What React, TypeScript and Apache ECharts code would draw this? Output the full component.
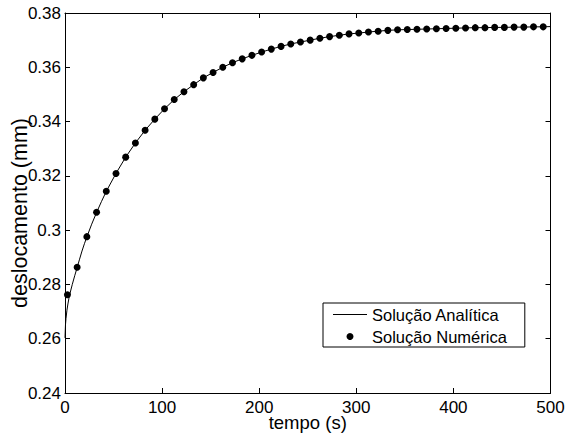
import React, { useEffect, useRef } from "react";
import * as echarts from "echarts";

// Numerical solution (points)
const numericTime: number[] = [
  2.5, 12.5, 22.5, 32.5, 42.5, 52.5, 62.5, 72.5, 82.5, 92.5,
  102.5, 112.5, 122.5, 132.5, 142.5, 152.5, 162.5, 172.5, 182.5, 192.5,
  202.5, 212.5, 222.5, 232.5, 242.5, 252.5, 262.5, 272.5, 282.5, 292.5,
  302.5, 312.5, 322.5, 332.5, 342.5, 352.5, 362.5, 372.5, 382.5, 392.5,
  402.5, 412.5, 422.5, 432.5, 442.5, 452.5, 462.5, 472.5, 482.5, 492.5,
];
const numericValues: number[] = [
  0.2762, 0.2863, 0.2976, 0.3066, 0.3143, 0.3209, 0.3269, 0.3321, 0.3368, 0.3409,
  0.3447, 0.3481, 0.3510, 0.3536, 0.3561, 0.3581, 0.3600, 0.3617, 0.3631, 0.3644,
  0.3656, 0.3667, 0.3677, 0.3686, 0.3693, 0.3700, 0.3707, 0.3713, 0.3718, 0.3723,
  0.3726, 0.3730, 0.3733, 0.3736, 0.3738, 0.3739, 0.3740, 0.3741, 0.3742, 0.3743,
  0.3744, 0.3745, 0.3746, 0.3746, 0.3747, 0.3747, 0.3748, 0.3748, 0.3749, 0.3749,
];

// Analytical solution (line)
const analyticTime: number[] = [
  0, 0.5, 1, 2, 3, 4, 5, 7.5, 10, 12.5, 15, 17.5, 20, 22.5, 27.5, 32.5, 37.5,
  42.5, 52.5, 62.5, 72.5, 82.5, 92.5, 102.5, 112.5, 122.5, 132.5, 142.5, 152.5,
  162.5, 172.5, 182.5, 192.5, 202.5, 212.5, 222.5, 232.5, 242.5, 252.5, 262.5,
  272.5, 282.5, 292.5, 302.5, 312.5, 322.5, 332.5, 342.5, 352.5, 362.5, 372.5,
  382.5, 392.5, 402.5, 412.5, 422.5, 432.5, 442.5, 452.5, 462.5, 472.5, 482.5,
  492.5, 500,
];
const analyticValues: number[] = [
  0.2603, 0.2652, 0.2674, 0.2705, 0.2728, 0.2748, 0.2765, 0.2800, 0.2832, 0.2862,
  0.2893, 0.2923, 0.2950, 0.2975, 0.3022, 0.3065, 0.3105,
  0.3143, 0.3209, 0.3269, 0.3321, 0.3368, 0.3409, 0.3447, 0.3481, 0.3510, 0.3536,
  0.3561, 0.3581, 0.3600, 0.3617, 0.3631, 0.3644, 0.3656, 0.3667, 0.3677, 0.3686,
  0.3693, 0.3700, 0.3707, 0.3713, 0.3718, 0.3723, 0.3726, 0.3730, 0.3733, 0.3736,
  0.3738, 0.3739, 0.3740, 0.3741, 0.3742, 0.3743, 0.3744, 0.3745, 0.3746, 0.3746,
  0.3747, 0.3747, 0.3748, 0.3748, 0.3749, 0.3749, 0.3750,
];

const seriesNames = ["Solução Analítica", "Solução Numérica"];
const xTitle = "tempo (s)";
const yTitle = "deslocamento (mm)";

const FONT = "'Liberation Sans', Arial, Helvetica, sans-serif";

export default function App() {
  const ref = useRef<HTMLDivElement>(null);

  useEffect(() => {
    if (!ref.current) return;
    const chart = echarts.init(ref.current, undefined, { renderer: "svg" });

    const tickStyle = {
      show: true,
      inside: true,
      length: 5,
      lineStyle: { color: "#000", width: 1 },
    };
    const axisLine = { show: true, onZero: false, lineStyle: { color: "#000", width: 1 } };

    const xCommon = { type: "value" as const, min: 0, max: 500, interval: 100 };
    const yCommon = { type: "value" as const, min: 0.24, max: 0.38, interval: 0.02 };

    chart.setOption({
      animation: false,
      backgroundColor: "#fff",
      grid: {
        left: 65,
        right: 15.5,
        top: 13,
        bottom: 49,
        containLabel: false,
        outerBoundsMode: "none",
      },
      graphic: [
        {
          type: "text",
          x: 20,
          y: 213,
          rotation: Math.PI / 2,
          silent: true,
          style: {
            text: yTitle,
            fontFamily: FONT,
            fontSize: 21.5,
            fill: "#000",
            textAlign: "center",
            textVerticalAlign: "middle",
          },
        },
      ],
      legend: {
        orient: "vertical",
        left: 323,
        top: 303,
        itemWidth: 34,
        itemHeight: 7,
        itemGap: 5,
        padding: [3, 18, 2, 10],
        borderColor: "#000",
        borderWidth: 1,
        backgroundColor: "#fff",
        selectedMode: false,
        textStyle: { fontFamily: FONT, fontSize: 16.5, color: "#000" },
        data: [
          {
            name: seriesNames[0],
            icon: "path://M0,0 L34,0 L34,1 L0,1 Z",
            itemStyle: { color: "#000" },
          },
          { name: seriesNames[1], icon: "circle", itemStyle: { color: "#000", opacity: 1 } },
        ],
      },
      xAxis: [
        {
          ...xCommon,
          position: "bottom",
          name: xTitle,
          nameLocation: "middle",
          nameGap: 20,
          nameMoveOverlap: false,
          nameTextStyle: { fontFamily: FONT, fontSize: 18.5, color: "#000" },
          axisLine,
          axisTick: tickStyle,
          axisLabel: { fontFamily: FONT, fontSize: 17, color: "#000", margin: 6 },
          splitLine: { show: false },
        },
        {
          ...xCommon,
          position: "top",
          axisLine,
          axisTick: tickStyle,
          axisLabel: { show: false },
          splitLine: { show: false },
        },
      ],
      yAxis: [
        {
          ...yCommon,
          position: "left",
          axisLine,
          axisTick: tickStyle,
          axisLabel: {
            fontFamily: FONT,
            fontSize: 17,
            color: "#000",
            margin: 4,
            formatter: (v: number) => String(Math.round(v * 100) / 100),
          },
          splitLine: { show: false },
        },
        {
          ...yCommon,
          position: "right",
          axisLine,
          axisTick: tickStyle,
          axisLabel: { show: false },
          splitLine: { show: false },
        },
      ],
      series: [
        {
          name: seriesNames[0],
          type: "line",
          xAxisIndex: 0,
          yAxisIndex: 0,
          symbol: "none",
          showSymbol: false,
          smooth: false,
          lineStyle: { color: "#000", width: 1 },
          itemStyle: { color: "#000" },
          data: analyticTime.map((t, i) => [t, analyticValues[i]]),
          z: 2,
        },
        {
          name: seriesNames[1],
          type: "scatter",
          xAxisIndex: 0,
          yAxisIndex: 0,
          symbol: "circle",
          symbolSize: 7,
          itemStyle: { color: "#000", opacity: 1 },
          data: numericTime.map((t, i) => [t, numericValues[i]]),
          z: 3,
        },
      ],
    });

    return () => chart.dispose();
  }, []);

  return (
    <div
      ref={ref}
      style={{ position: "fixed", left: 0, top: 0, width: 566, height: 442, background: "#fff" }}
    />
  );
}
